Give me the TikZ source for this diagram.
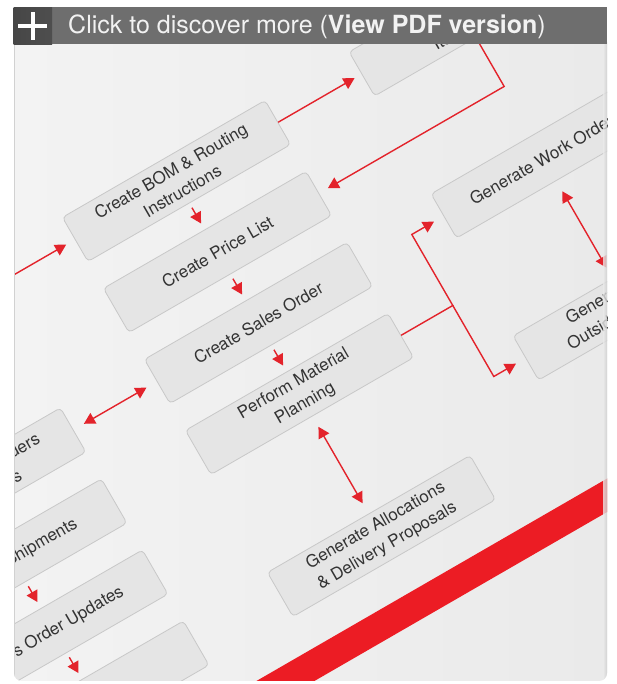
\documentclass[tikz,border=0pt]{standalone}
\usepackage{fontspec}
\setmainfont{TeX Gyre Heros}
\usetikzlibrary{arrows.meta,calc}
\definecolor{arrred}{HTML}{E3232B}
\definecolor{bandred}{HTML}{EC1C24}
\definecolor{panelbg}{HTML}{EEEEEE}
\definecolor{panellt}{HTML}{F3F3F3}
\definecolor{paneldk}{HTML}{EAEAEA}
\definecolor{boxfill}{HTML}{E5E5E5}
\definecolor{boxline}{HTML}{C8C8C8}
\definecolor{txt}{HTML}{333333}
\definecolor{hdr}{HTML}{6E6E6E}
\definecolor{hdrdark}{HTML}{464646}
\definecolor{hdrtxt}{HTML}{F2F2F2}
\begin{document}
\begin{tikzpicture}[x=1pt,y=1pt,
  procbox/.style={draw=boxline, line width=0.8pt, fill=boxfill, rounded corners=4pt,
    minimum width=234pt, minimum height=51pt, align=center, text=txt,
    font=\fontsize{17}{23}\selectfont, inner sep=0pt, transform shape},
  arrline/.style={draw=arrred, line width=1.4pt},
  flow/.style={arrline, -{Triangle[length=11pt,width=12pt]}},
  both/.style={arrline, {Triangle[length=11pt,width=12pt]}-{Triangle[length=11pt,width=12pt]},
    shorten <=12pt, shorten >=12pt},
  shortflow/.style={flow, shorten <=5pt, shorten >=7pt},
]
\useasboundingbox (0,0) rectangle (616,684);
\fill[white] (0,0) rectangle (616,684);
% panel
\shade[left color=panellt, right color=paneldk, rounded corners=8pt] (14,3) rectangle (607,650);
\begin{scope}
\clip[rounded corners=8pt] (14,3) rectangle (607,650);
\begin{scope}[shift={(299.5,290)}, rotate=30]
  % red band
  \fill[bandred] (-700,-256) rectangle (700,-227);
  % nodes
  \node[procbox] (A) at (0,246) {Create BOM \& Routing\\Instructions};
  \node[procbox] (B) at (0,164) {Create Price List};
  \node[procbox] (C) at (0,82) {Create Sales Order};
  \node[procbox] (D) at (0,0) {Perform Material\\Planning};
  \node[procbox] (E) at (0,-164) {Generate Allocations\\\& Delivery Proposals};
  \node[procbox] (H) at (331,246) {\vphantom{C}\\Item Costs};
  \node[procbox] (F) at (331,82) {Generate Work Orders};
  \node[procbox] (G) at (331,-82) {Generate PO for\\Outside Processing};
  \node[procbox] (L1) at (-331,82) {Release Sales Orders\\\& Allocations};
  \node[procbox] (L2) at (-331,0) {Process Shipments};
  \node[procbox] (L3) at (-331,-82) {Sales Order Updates};
  \node[procbox] (L4) at (-331,-164) {};
  % helper coordinates
  \coordinate (in0) at (-240,246);
  \coordinate (hb) at (331,164);
  \coordinate (j) at (177,0);
  \coordinate (jt) at (177,82);
  \coordinate (jb) at (177,-82);
  % connectors
  \draw[flow, shorten >=10pt] (in0) -- (A.west);
  \draw[flow, shorten >=8pt] (A.east) -- (H.west);
  \draw[flow, shorten >=10pt] (H.south) -- (hb) -- (B.east);
  \draw[shortflow] (A.south) -- (B.north);
  \draw[shortflow] (B.south) -- (C.north);
  \draw[shortflow] (C.south) -- (D.north);
  \draw[shortflow] (L2.south) -- (L3.north);
  \draw[shortflow] (L3.south) -- (L4.north);
  \draw[both] (L1.east) -- (C.west);
  \draw[both] (D.south) -- (E.north);
  \draw[both] ([xshift=-2pt]F.south) -- ([xshift=-2pt]G.north);
  \draw[flow, shorten >=11pt] (D.east) -- (j) -- (jt) -- (F.west);
  \draw[flow, shorten >=11pt] (j) -- (jb) -- (G.west);
\end{scope}
% panel edges
\shade[left color=paneldk, right color=black!20, opacity=0.8] (603,3) rectangle (607,650);
\draw[black!18, line width=1.2pt] (14.6,3) -- (14.6,650);
\end{scope}
% header
\fill[hdr] (13.5,639.5) rectangle (606.5,676.5);
\shade[left color=hdrdark, right color=hdrdark!80!hdr] (13.5,639.5) rectangle (52,676.5);
\draw[white, line width=4pt] (18,657.8) -- (47,657.8);
\draw[white, line width=4pt] (32.5,644) -- (32.5,671.5);
\node[anchor=base west, inner sep=0pt, text=hdrtxt, font=\fontsize{25}{29}\selectfont]
  (hdrtext) at (68,650) {Click to discover more (\textbf{View PDF version})};
\end{tikzpicture}
\end{document}
